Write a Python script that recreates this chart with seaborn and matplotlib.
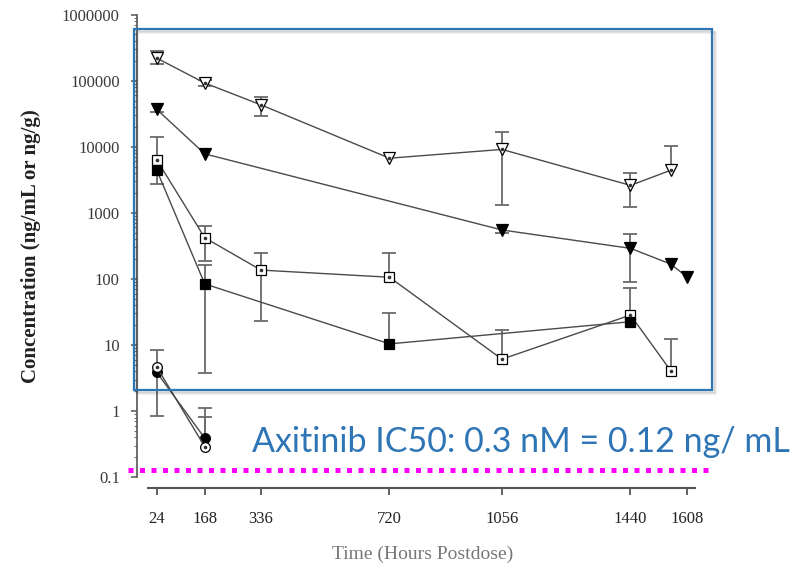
import numpy as np
import matplotlib
matplotlib.use('Agg')
import matplotlib.pyplot as plt
import seaborn as sns
from matplotlib.patches import Rectangle
from matplotlib.ticker import FixedLocator, LogLocator, NullFormatter

# ============================================================
# VERI
# ============================================================
t_open_tri = [24, 168, 336, 720, 1056, 1440, 1560]
c_open_tri = [2.2e5, 9.2e4, 4.3e4, 6.7e3, 9.1e3, 2.6e3, 4.4e3]
hi_open_tri = [2.8e5, 1.02e5, 5.65e4, np.nan, 1.69e4, 3.96e3, 1.03e4]
lo_open_tri = [1.78e5, 8.3e4, 2.9e4, np.nan, 1.31e3, 1.24e3, np.nan]

t_fill_tri = [24, 168, 1056, 1440, 1560, 1608]
c_fill_tri = [3.7e4, 7.8e3, 550, 290, 168, 108]
hi_fill_tri = [np.nan, np.nan, np.nan, 478, np.nan, np.nan]
lo_fill_tri = [3.3e4, np.nan, 494, 91, np.nan, np.nan]

t_open_sq = [24, 168, 336, 720, 1056, 1440, 1560]
c_open_sq = [6.4e3, 420, 136, 106, 6.1, 28.4, 4.1]
hi_open_sq = [1.39e4, 630, 249, 245, 16.9, 72, 12.2]
lo_open_sq = [2.7e3, 188, 23, np.nan, np.nan, np.nan, np.nan]

t_fill_sq = [24, 168, 720, 1440]
c_fill_sq = [4.5e3, 84, 10.4, 22.5]
hi_fill_sq = [np.nan, 162, 30.2, np.nan]
lo_fill_sq = [np.nan, 3.8, np.nan, np.nan]

t_open_ci = [24, 168]
c_open_ci = [4.7, 0.29]
hi_open_ci = [8.4, 1.1]
lo_open_ci = [0.84, np.nan]

t_fill_ci = [24, 168]
c_fill_ci = [3.9, 0.39]
hi_fill_ci = [np.nan, 0.82]
lo_fill_ci = [np.nan, np.nan]

x_ticks = [24, 168, 336, 720, 1056, 1440, 1608]
y_ticks = [0.1, 1, 10, 100, 1000, 10000, 100000, 1000000]
y_ticklabels = ['0.1', '1', '10', '100', '1000', '10000', '100000', '1000000']
ic50 = 0.13
ic50_text = 'Axitinib IC50: 0.3 nM = 0.12 ng/ mL'

# ============================================================
# CIZIM
# ============================================================
sns.set_style('ticks')
plt.rcParams['font.family'] = ['Liberation Serif', 'DejaVu Serif']

fig = plt.figure(figsize=(7.96, 5.65), dpi=100)
ax = fig.add_axes([0.1715, 0.1554, 0.7299, 0.8189])
ax.set_yscale('log')
ax.set_xlim(-35.8, 1700)
ax.set_ylim(0.1, 1e6)

line_c = '#4a4a4a'
err_c = '#6a6a6a'

series = [
    (t_open_tri, c_open_tri, hi_open_tri, lo_open_tri, 'v', False, 8.5),
    (t_fill_tri, c_fill_tri, hi_fill_tri, lo_fill_tri, 'v', True, 8.5),
    (t_open_sq, c_open_sq, hi_open_sq, lo_open_sq, 's', False, 6.5),
    (t_fill_sq, c_fill_sq, hi_fill_sq, lo_fill_sq, 's', True, 6.5),
    (t_fill_ci, c_fill_ci, hi_fill_ci, lo_fill_ci, 'o', True, 7),
    (t_open_ci, c_open_ci, hi_open_ci, lo_open_ci, 'o', False, 7),
]

for t, c, hi, lo, m, filled, ms in series:
    t = np.array(t, float)
    c = np.array(c, float)
    # hata cubuklari (ust / alt ayri)
    for bound in (np.array(hi, float), np.array(lo, float)):
        ok = ~np.isnan(bound)
        if ok.any():
            ax.vlines(t[ok], c[ok], bound[ok], color=err_c, lw=1.3, zorder=1)
            ax.plot(t[ok], bound[ok], ls='none', marker='_', ms=10,
                    mew=1.3, color=err_c, zorder=1)
    sns.lineplot(x=t, y=c, ax=ax, color=line_c, lw=1.0, marker=m, ms=ms,
                 markerfacecolor='black' if filled else 'white',
                 markeredgecolor='black', markeredgewidth=0.9, zorder=3)
    if not filled:
        ax.plot(t, c, ls='none', marker='o', ms=1.6, color='#333333', zorder=4)

# eksenler
for s in ['top', 'right']:
    ax.spines[s].set_visible(False)
ax.spines['left'].set_color('#555555')
ax.spines['left'].set_linewidth(1.2)
ax.spines['bottom'].set_color('#555555')
ax.spines['bottom'].set_linewidth(1.5)
ax.spines['bottom'].set_position(('outward', 8))
ax.spines['bottom'].set_bounds(0, 1634)

ax.xaxis.set_major_locator(FixedLocator(x_ticks))
ax.set_xticklabels([str(v) for v in x_ticks])
ax.yaxis.set_major_locator(FixedLocator(y_ticks))
ax.set_yticklabels(y_ticklabels)
ax.yaxis.set_minor_locator(LogLocator(base=10, subs=np.arange(2, 10)))
ax.yaxis.set_minor_formatter(NullFormatter())
ax.tick_params(axis='x', length=5, width=1.3, color='#555555', pad=11,
               labelsize=12, labelcolor='#222222')
ax.tick_params(axis='y', which='major', length=4.5, width=1.1, color='#555555',
               pad=7.5, labelsize=12, labelcolor='#3a3a3a')
ax.tick_params(axis='y', which='minor', length=2.5, width=0.8, color='#777777')
ax.set_xlabel('')
ax.set_ylabel('')

fig.text(31 / 796, 0.5646, 'Concentration (ng/mL or ng/g)', rotation=90,
         ha='center', va='center', fontsize=15, fontweight='bold',
         color='#222222')
fig.text(423 / 796, 2 / 565, 'Time (Hours Postdose)', ha='center', va='bottom',
         fontsize=14, color='#777777')

# IC50 cizgisi
ax.hlines(ic50, -61, 1675, colors='#ff00ff', lw=3.6, linestyles=(0, (1, 1.3)),
          clip_on=False, zorder=5)

# mavi cerceve + golge
x0, y0 = 134.3 / 796, 1 - 390 / 565
w, h = (711.7 - 134.3) / 796, (390 - 29.3) / 565
for k, a in [(4, 0.05), (3, 0.07), (2, 0.09)]:
    fig.patches.append(Rectangle((x0 + k / 796, y0 - k / 565), w, h,
                                 transform=fig.transFigure, fill=False,
                                 ec='black', lw=1.5, alpha=a))
fig.patches.append(Rectangle((x0, y0), w, h, transform=fig.transFigure,
                             fill=False, ec='#2E75B6', lw=1.6, zorder=10))

fig.text(252 / 796, 1 - 452 / 565, ic50_text, ha='left', va='baseline',
         fontsize=24.5, color='#2E75B6', family=['Lato', 'DejaVu Sans'])

fig.savefig('out.png', dpi=100)
